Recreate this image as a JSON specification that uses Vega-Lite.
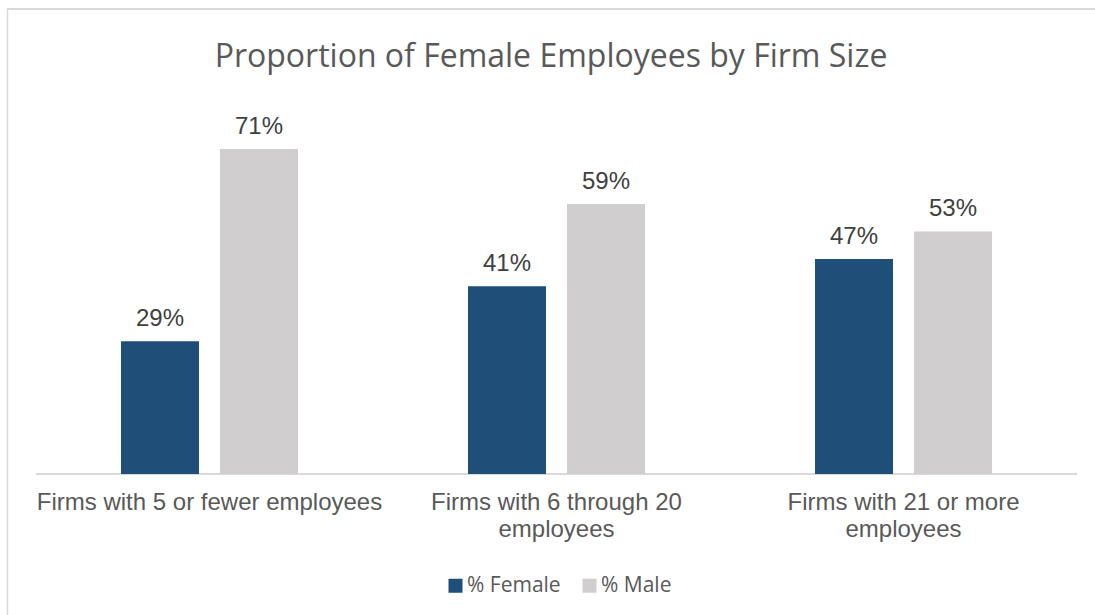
{
  "$schema": "https://vega.github.io/schema/vega-lite/v6.json",
  "autosize": {"type": "none"},
  "width": 1088,
  "height": 606,
  "padding": {"left": 7, "top": 9, "right": 0, "bottom": 0},
  "background": "white",
  "title": {
    "text": "Proportion of Female Employees by Firm Size",
    "anchor": "middle",
    "frame": "group",
    "offset": -91,
    "baseline": "alphabetic",
    "font": "Open Sans",
    "fontSize": 32,
    "fontWeight": "normal",
    "color": "#595959"
  },
  "config": {"view": {"stroke": null}, "axis": {"grid": false}},
  "data": {
    "values": [
      {"firm": "Firms with 5 or fewer employees", "gender": "% Female", "value": 0.29},
      {"firm": "Firms with 5 or fewer employees", "gender": "% Male", "value": 0.71},
      {"firm": "Firms with 6 through 20 employees", "gender": "% Female", "value": 0.41},
      {"firm": "Firms with 6 through 20 employees", "gender": "% Male", "value": 0.59},
      {"firm": "Firms with 21 or more employees", "gender": "% Female", "value": 0.47},
      {"firm": "Firms with 21 or more employees", "gender": "% Male", "value": 0.53}
    ]
  },
  "layer": [
    {
      "mark": {"type": "rule", "color": "#D9D9D9", "strokeWidth": 2},
      "encoding": {
        "x": {
          "field": "firm",
          "type": "nominal",
          "bandPosition": 0,
          "sort": ["Firms with 5 or fewer employees", "Firms with 6 through 20 employees", "Firms with 21 or more employees"],
          "scale": {"paddingInner": 0, "paddingOuter": 0.0677, "align": 0.617},
          "axis": {
            "orient": "bottom",
            "offset": -141,
            "domain": false,
            "ticks": false,
            "title": null,
            "labelAngle": 0,
            "labelPadding": 16,
            "labelFont": "Liberation Sans",
            "labelFontSize": 24,
            "labelColor": "#595959",
            "labelLineHeight": 27,
            "labelLimit": 0,
            "labelBaseline": "top",
            "labelExpr": "datum.value == 'Firms with 6 through 20 employees' ? ['Firms with 6 through 20', 'employees'] : datum.value == 'Firms with 21 or more employees' ? ['Firms with 21 or more', 'employees'] : datum.value"
          }
        },
        "x2": {"field": "firm", "bandPosition": 1},
        "y": {
          "datum": 0,
          "type": "quantitative",
          "scale": {"domain": [-0.308, 1.016], "nice": false, "zero": false},
          "axis": {
            "orient": "left",
            "domain": true,
            "domainColor": "#D9D9D9",
            "domainWidth": 1.5,
            "ticks": false,
            "labels": false,
            "grid": false,
            "title": null
          }
        }
      }
    },
    {
      "mark": {"type": "bar"},
      "encoding": {
        "x": {"field": "firm", "type": "nominal", "sort": ["Firms with 5 or fewer employees", "Firms with 6 through 20 employees", "Firms with 21 or more employees"]},
        "xOffset": {
          "field": "gender",
          "type": "nominal",
          "sort": ["% Female", "% Male"],
          "scale": {"paddingInner": 0.212, "paddingOuter": 0.8585}
        },
        "y": {"field": "value", "type": "quantitative"},
        "color": {
          "field": "gender",
          "type": "nominal",
          "sort": ["% Female", "% Male"],
          "scale": {"domain": ["% Female", "% Male"], "range": ["#1F4E79", "#D0CECE"]},
          "legend": {
            "orient": "none",
            "legendX": 438,
            "legendY": 566,
            "direction": "horizontal",
            "title": null,
            "symbolType": "square",
            "symbolSize": 196,
            "symbolStrokeWidth": 0,
            "symbolOpacity": 1,
            "labelFont": "Open Sans",
            "labelFontSize": 21,
            "labelColor": "#595959",
            "labelOffset": 1,
            "columnPadding": 18,
            "padding": 0
          }
        }
      }
    },
    {
      "mark": {"type": "text", "font": "Liberation Sans", "fontSize": 24, "color": "#404040", "baseline": "alphabetic", "align": "center", "dy": -15},
      "encoding": {
        "x": {"field": "firm", "type": "nominal", "sort": ["Firms with 5 or fewer employees", "Firms with 6 through 20 employees", "Firms with 21 or more employees"]},
        "xOffset": {"field": "gender", "type": "nominal", "sort": ["% Female", "% Male"]},
        "y": {"field": "value", "type": "quantitative"},
        "text": {"field": "value", "type": "quantitative", "format": ".0%"}
      }
    },
    {
      "mark": {"type": "rule", "color": "#D9D9D9", "strokeWidth": 1.5},
      "encoding": {"y": {"datum": 1.016, "type": "quantitative"}}
    }
  ]
}
